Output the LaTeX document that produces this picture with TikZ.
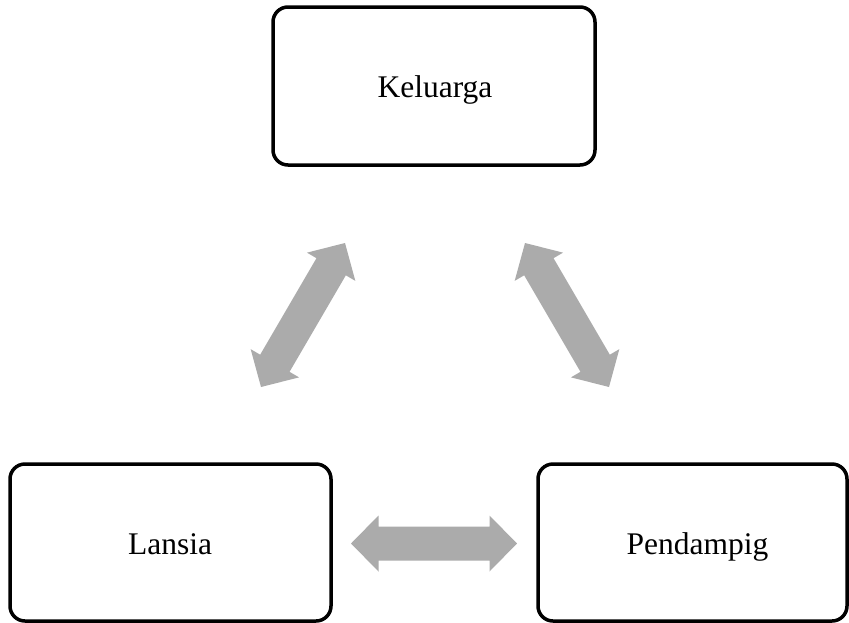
\documentclass[tikz,border=0pt]{standalone}
\usepackage{fontspec}
\setmainfont{Liberation Serif}
\usetikzlibrary{calc}
\definecolor{arrowgray}{RGB}{171,171,171}
\tikzset{
  boxnode/.style={draw=black, line width=3.5pt, rounded corners=15pt, fill=white},
  boxlabel/.style={font=\fontsize{31.5}{37}\selectfont, inner sep=0pt, anchor=base},
  bigarrow/.style={fill=arrowgray, draw=none}
}
% block double arrow between two named coordinates
\newcommand\blockdarrow[2]{%
  \fill[bigarrow]
    (#1)
    -- ($($(#1)!27.5pt!(#2)$)!28pt!90:(#2)$)
    -- ($($(#1)!27.5pt!(#2)$)!17pt!90:(#2)$)
    -- ($($(#2)!27.5pt!(#1)$)!17pt!-90:(#1)$)
    -- ($($(#2)!27.5pt!(#1)$)!28pt!-90:(#1)$)
    -- (#2)
    -- ($($(#2)!27.5pt!(#1)$)!28pt!90:(#1)$)
    -- ($($(#2)!27.5pt!(#1)$)!17pt!90:(#1)$)
    -- ($($(#1)!27.5pt!(#2)$)!17pt!-90:(#2)$)
    -- ($($(#1)!27.5pt!(#2)$)!28pt!-90:(#2)$)
    -- cycle;}
\begin{document}
\begin{tikzpicture}[x=1pt,y=-1pt]
\useasboundingbox (0,0) rectangle (849,622);
% boxes
\draw[boxnode] (273,7) rectangle (595,165);
\node[boxlabel] (keluarga) at (435,97) {Keluarga};
\draw[boxnode] (10,464) rectangle (331,621);
\node[boxlabel] (lansia) at (170,554) {Lansia};
\draw[boxnode] (538,464) rectangle (847,621);
\node[boxlabel] (pendampig) at (697.5,554) {Pendampig};
% arrow end points
\coordinate (lA) at (261,387);
\coordinate (lB) at (345,243);
\coordinate (rA) at (525,243);
\coordinate (rB) at (609,387);
\coordinate (hA) at (351,543.5);
\coordinate (hB) at (517,543.5);
\blockdarrow{lA}{lB}
\blockdarrow{rA}{rB}
\blockdarrow{hA}{hB}
\end{tikzpicture}
\end{document}
